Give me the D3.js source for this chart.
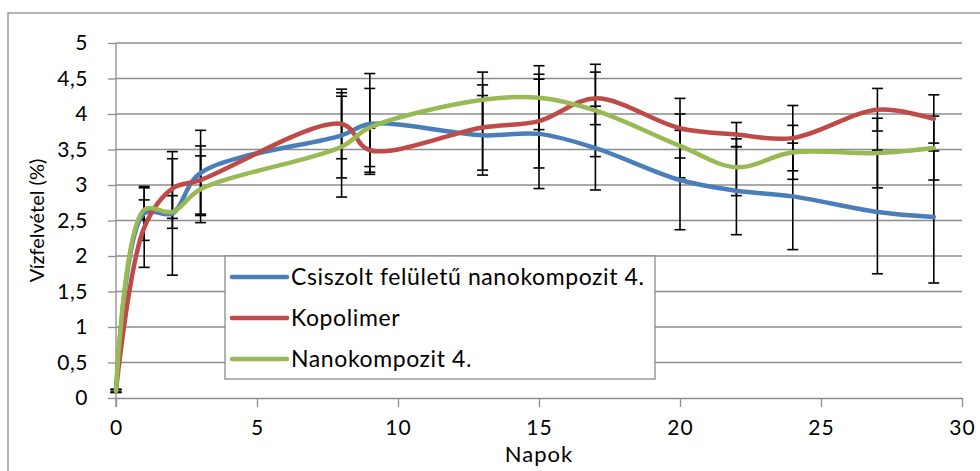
<!DOCTYPE html>
<html>
<head>
<meta charset="utf-8">
<script src="https://cdn.jsdelivr.net/npm/d3@7"></script>
<style>
  body { margin: 0; background: #fff; }
  svg text { font-family: Lato, "Open Sans", sans-serif; fill: #000; }
</style>
</head>
<body>
<div id="chart"></div>
<script>
// ---- data ----
var days = [0, 1, 2, 3, 8, 9, 13, 15, 17, 20, 22, 24, 27, 29];

var seriesNames = ["Csiszolt felületű nanokompozit 4.", "Kopolimer", "Nanokompozit 4."];
var seriesColors = ["#4a7ebb", "#be4b48", "#98b954"];

var csiszolt    = [0.1, 2.60, 2.60, 3.17, 3.70, 3.86, 3.70, 3.72, 3.52, 3.07, 2.92, 2.84, 2.62, 2.55];
var csiszoltErr = [0.02, 0.38, 0.87, 0.60, 0.60, 0.71, 0.56, 0.77, 0.59, 0.70, 0.62, 0.75, 0.87, 0.93];

var kopolimer    = [0.1, 2.40, 2.95, 3.07, 3.86, 3.49, 3.81, 3.90, 4.22, 3.80, 3.71, 3.66, 4.06, 3.93];
var kopolimerErr = [0.02, 0.56, 0.42, 0.48, 0.49, 0.31, 0.60, 0.66, 0.37, 0.42, 0.17, 0.46, 0.30, 0.34];

var nano    = [0.1, 2.65, 2.62, 2.94, 3.54, 3.81, 4.20, 4.23, 4.05, 3.55, 3.25, 3.46, 3.45, 3.52];
var nanoErr = [0.02, 0.14, 0.23, 0.47, 0.71, 0.55, 0.39, 0.45, 0.65, 0.45, 0.40, 0.38, 0.49, 0.45];

var xTicks = [0, 5, 10, 15, 20, 25, 30];
var yTicks = [0, 0.5, 1, 1.5, 2, 2.5, 3, 3.5, 4, 4.5, 5];

var allValues = [csiszolt, kopolimer, nano];
var allErrors = [csiszoltErr, kopolimerErr, nanoErr];

// ---- layout ----
var W = 980, H = 471;
var plot = { left: 116, right: 962, top: 43, bottom: 398 };
var font = "Lato, 'Open Sans', sans-serif";

var svg = d3.select("#chart")
  .append("svg")
  .attr("width", W)
  .attr("height", H);

// Hungarian number format (decimal comma)
var hu = d3.formatLocale({ decimal: ",", thousands: " ", grouping: [3], currency: ["", " Ft"] });
var yFmt = hu.format(".1~f");

var x = d3.scaleLinear().domain([0, 30]).range([plot.left, plot.right]);
var y = d3.scaleLinear().domain([0, 5]).range([plot.bottom, plot.top]);

// chart frame (cut off at right and bottom)
svg.append("rect")
  .attr("x", 8)
  .attr("y", 13)
  .attr("width", W + 20)
  .attr("height", H + 20)
  .attr("fill", "none")
  .attr("stroke", "#8a8a8a")
  .attr("stroke-width", 1.3);

// horizontal gridlines
svg.append("g")
  .selectAll("line")
  .data(yTicks.filter(function (d) { return d > 0; }))
  .enter()
  .append("line")
  .attr("x1", plot.left)
  .attr("x2", plot.right)
  .attr("y1", function (d) { return y(d); })
  .attr("y2", function (d) { return y(d); })
  .attr("stroke", "#8c8c8c")
  .attr("stroke-width", 1.3);

// x axis
var xaxis = svg.append("g")
  .attr("transform", "translate(0," + plot.bottom + ")")
  .call(d3.axisBottom(x).tickValues(xTicks).tickSize(9).tickSizeOuter(0));
xaxis.select(".domain").attr("stroke", "#8c8c8c").attr("stroke-width", 1.3);
xaxis.selectAll(".tick line").attr("stroke", "#8c8c8c").attr("stroke-width", 1.3);
xaxis.selectAll(".tick text")
  .attr("y", 37)
  .attr("dy", 0)
  .style("font-size", "21px")
  .style("letter-spacing", "1px")
  .style("font-family", font);

// y axis
var yaxis = svg.append("g")
  .attr("transform", "translate(" + plot.left + ",0)")
  .call(d3.axisLeft(y).tickValues(yTicks).tickFormat(yFmt).tickSize(8).tickPadding(20).tickSizeOuter(0));
yaxis.select(".domain").attr("stroke", "#8c8c8c").attr("stroke-width", 1.3)
  .attr("d", "M0," + (plot.bottom + 9) + "V" + plot.top);
yaxis.selectAll(".tick line").attr("stroke", "#8c8c8c").attr("stroke-width", 1.3);
yaxis.selectAll(".tick text")
  .style("font-size", "21px")
  .style("letter-spacing", "0.5px")
  .style("font-family", font);

// axis titles
svg.append("text")
  .attr("transform", "translate(37," + ((plot.top + plot.bottom) / 2) + ") rotate(-90)")
  .attr("text-anchor", "middle")
  .attr("dy", "0.35em")
  .style("font-size", "20px")
  .text("Vízfelvétel (%)");

svg.append("text")
  .attr("x", (plot.left + plot.right) / 2)
  .attr("y", 462)
  .attr("text-anchor", "middle")
  .style("font-size", "22px")
  .style("letter-spacing", "1px")
  .text("Napok");

// error bars
var capW = 5.5;
allValues.forEach(function (vals, s) {
  var errs = allErrors[s];
  var g = svg.append("g").attr("stroke", "#000").attr("stroke-width", 1.6);
  days.forEach(function (d, i) {
    var cx = x(d), hi = y(vals[i] + errs[i]), lo = y(vals[i] - errs[i]);
    g.append("line").attr("x1", cx).attr("x2", cx).attr("y1", hi).attr("y2", lo);
    g.append("line").attr("x1", cx - capW).attr("x2", cx + capW).attr("y1", hi).attr("y2", hi);
    g.append("line").attr("x1", cx - capW).attr("x2", cx + capW).attr("y1", lo).attr("y2", lo);
  });
});

// smoothed lines
var line = d3.line()
  .x(function (d) { return x(d[0]); })
  .y(function (d) { return y(d[1]); })
  .curve(d3.curveCatmullRom.alpha(0.5));

allValues.forEach(function (vals, s) {
  svg.append("path")
    .datum(days.map(function (d, i) { return [d, vals[i]]; }))
    .attr("d", line)
    .attr("fill", "none")
    .attr("stroke", seriesColors[s])
    .attr("stroke-width", 4.5)
    .attr("stroke-linecap", "round")
    .attr("stroke-linejoin", "round");
});

// legend
var legend = svg.append("g");
legend.append("rect")
  .attr("x", 225)
  .attr("y", 256)
  .attr("width", 430)
  .attr("height", 123)
  .attr("fill", "#fff")
  .attr("stroke", "#8c8c8c")
  .attr("stroke-width", 1.3);

var legendY = [277, 318, 359];
seriesNames.forEach(function (name, i) {
  legend.append("line")
    .attr("x1", 232)
    .attr("x2", 287)
    .attr("y1", legendY[i])
    .attr("y2", legendY[i])
    .attr("stroke", seriesColors[i])
    .attr("stroke-width", 4.5)
    .attr("stroke-linecap", "round");
  legend.append("text")
    .attr("x", 291)
    .attr("y", legendY[i])
    .attr("dy", "0.36em")
    .style("font-size", "23px")
    .style("letter-spacing", "0.6px")
    .text(name);
});
</script>
</body>
</html>
